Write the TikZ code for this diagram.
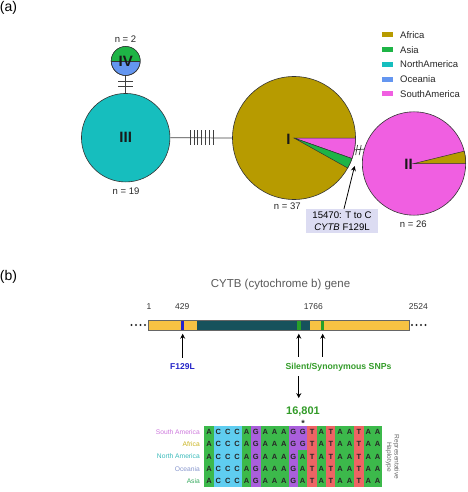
\documentclass[tikz,border=0pt]{standalone}
\usepackage{fontspec}
\setmainfont{Liberation Sans}
\usetikzlibrary{arrows.meta,calc}
\definecolor{africa}{RGB}{183,155,0}
\definecolor{asia}{RGB}{30,180,70}
\definecolor{namer}{RGB}{22,190,190}
\definecolor{oceania}{RGB}{100,150,240}
\definecolor{samer}{RGB}{240,95,225}
\definecolor{callbg}{RGB}{220,220,242}
\definecolor{genebar}{RGB}{247,194,67}
\definecolor{dkdomain}{RGB}{22,82,92}
\definecolor{mblue}{RGB}{35,35,205}
\definecolor{mgreen}{RGB}{40,160,40}
\definecolor{tgreen}{RGB}{50,155,40}
\definecolor{tblue}{RGB}{35,35,200}
\definecolor{colA}{RGB}{60,185,75}
\definecolor{colC}{RGB}{95,205,240}
\definecolor{colG}{RGB}{170,95,220}
\definecolor{colT}{RGB}{238,100,100}
\definecolor{rsam}{RGB}{205,120,220}
\definecolor{rafr}{RGB}{200,178,30}
\definecolor{rnam}{RGB}{55,185,185}
\definecolor{roce}{RGB}{135,150,205}
\definecolor{rasi}{RGB}{55,170,95}
\begin{document}
\begin{tikzpicture}[x=1pt,y=-1pt,
  lbl/.style={inner sep=0, font=\fontsize{9.5}{11}\selectfont, text=black!85},
  roman/.style={inner sep=0, font=\bfseries\fontsize{15}{15}\selectfont, text=black!90},
  hap/.style={circle, draw=black!80, line width=0.6pt, inner sep=0},
  wedge/.style={draw=black!80, line width=0.5pt},
  edge/.style={line width=0.7pt, draw=black!75},
  tickmark/.style={line width=0.7pt, draw=black!75},
  arr/.style={-{Stealth[length=5pt,width=5pt]}, line width=0.8pt, draw=black},
  num/.style={inner sep=0, font=\fontsize{8.5}{9}\selectfont, text=black!80},
  snpmark/.style={inner sep=0, minimum width=3.5pt, minimum height=10pt},
  cell/.style={inner sep=0, minimum width=9.4pt, minimum height=12.3pt, font=\bfseries\fontsize{7.5}{7.5}\selectfont, text=black!85},
  rowlbl/.style={inner sep=0, anchor=east, font=\fontsize{6.7}{7}\selectfont}
]
\useasboundingbox (0,0) rectangle (467,492);

% ---------- (a) ----------
\node[inner sep=0, font=\fontsize{14}{14}\selectfont] (laba) at (8.5,8) {(a)};

% haplotype circles
\node[hap, fill=namer, minimum size=88.5pt] (III) at (125.7,137.7) {};
\node[hap, fill=oceania, minimum size=29pt] (IV) at (125.7,61) {};
\fill[asia] (IV.center) ++(14.5,0) arc[start angle=0, end angle=-180, radius=14.5] -- cycle;
\draw[wedge] (IV.center) circle[radius=14.5];
\draw[wedge] ($(IV.center)+(-14.5,0)$) -- ($(IV.center)+(14.5,0)$);

\node[hap, fill=africa, minimum size=123pt] (I) at (294,138) {};
\filldraw[wedge, fill=samer] (I.center) -- ++(0:61.5) arc[start angle=0, end angle=19.5, radius=61.5] -- cycle;
\filldraw[wedge, fill=asia] (I.center) -- ++(19.5:61.5) arc[start angle=19.5, end angle=29.2, radius=61.5] -- cycle;

\node[hap, fill=samer, minimum size=103.4pt] (II) at (414,163.5) {};
\filldraw[wedge, fill=africa] (II.center) -- ++(-13.8:51.7) arc[start angle=-13.8, end angle=0, radius=51.7] -- cycle;

% numerals
\node[roman] (tIV) at (125.7,61) {IV};
\node[roman] (tIII) at (125.7,137.7) {III};
\node[roman] (tI) at (288.5,139) {I};
\node[roman] (tII) at (408.5,164) {II};

% n labels
\node[lbl] (n2) at (125.5,39) {n = 2};
\node[lbl] (n19) at (126,191) {n = 19};
\node[lbl] (n37) at (287.3,206.7) {n = 37};
\node[lbl] (n26) at (413.3,224) {n = 26};

% edges
\draw[edge] (IV.south) -- (III.north);
\foreach \y in {81.8,86} \draw[tickmark] (118.3,\y) -- (133.3,\y);
\draw[edge] (III.east) -- (I.west);
\foreach \i in {0,...,6} \draw[tickmark] ({190+3.9*\i},130) -- ({190+3.9*\i},145);
\draw[edge] (I.-11.25) -- (II.164.9);
\draw[tickmark] (355.6,155) -- (357.6,145);
\draw[tickmark] (359.2,155) -- (361.2,145);

% callout
\node[fill=callbg, minimum width=72pt, minimum height=24pt, inner sep=0, align=center,
      font=\fontsize{9.6}{11.7}\selectfont] (callout) at (342,221) {15470: T to C\\\textit{CYTB} F129L};
\coordinate (cyt) at (354.6,166);
\draw[arr] ([xshift=2pt]callout.north) -- (cyt);

% legend
\foreach \c/\t [count=\i] in {africa/Africa, asia/Asia, namer/NorthAmerica, oceania/Oceania, samer/SouthAmerica}{
  \fill[\c] (382,{35+14.75*(\i-1)-2.5}) rectangle ++(11,5);
  \node[lbl, anchor=west] (leg\i) at (400,{35+14.75*(\i-1)}) {\t};
}

% ---------- (b) ----------
\node[inner sep=0, font=\fontsize{14}{14}\selectfont] (labb) at (8.5,277) {(b)};
\node[inner sep=0, text=black!65, font=\fontsize{11.5}{12}\selectfont] (title) at (280.5,285) {CYTB (cytochrome b) gene};

\node[num] (p1) at (149,307) {1};
\node[num] (p429) at (182.3,307) {429};
\node[num] (p1766) at (313.3,307) {1766};
\node[num] (p2524) at (418.3,307) {2524};

\node[draw=black!60, fill=genebar, minimum width=261pt, minimum height=10pt, inner sep=0, line width=0.5pt] (bar) at (278.5,325) {};
\fill[dkdomain] (197,320) rectangle (310,330);
\node[snpmark, fill=mblue] (m1) at (182.7,325) {};
\node[snpmark, fill=mgreen] (m2) at (298.8,325) {};
\node[snpmark, fill=mgreen] (m3) at (322.7,325) {};
\draw[black!60, line width=0.5pt] (148,320) rectangle (409,330);
\foreach \x in {131.5,136,140.5,145} \fill[black!85] (\x,325) circle[radius=1.1];
\foreach \x in {412,416.5,421,425.5} \fill[black!85] (\x,325) circle[radius=1.1];

\node[inner sep=0, font=\bfseries\fontsize{8.5}{9}\selectfont, text=tblue] (f129) at (182.5,367) {F129L};
\node[inner sep=0, font=\bfseries\fontsize{8.7}{9}\selectfont, text=tgreen] (silent) at (338.5,367) {Silent/Synonymous SNPs};
\coordinate (fn) at ([yshift=6pt]f129.north);
\draw[arr] (fn -| m1) -- ([yshift=-3.5pt]m1.south);
\coordinate (sn) at ([yshift=6pt]silent.north);
\draw[arr] (sn -| m2) -- ([yshift=-3.5pt]m2.south);
\draw[arr] (sn -| m3) -- ([yshift=-3.5pt]m3.south);

\node[inner sep=0, font=\bfseries\fontsize{11}{12}\selectfont, text=tgreen] (pos) at (303,412) {16,801};
\coordinate (ss) at ([yshift=-5pt]silent.south);
\coordinate (ps) at ([yshift=9pt]pos.north);
\draw[arr] (ss -| m2) -- (ps -| m2);
\node[inner sep=0, font=\bfseries\fontsize{9}{9}\selectfont, text=black!85] (star) at (303,423.5) {*};

% alignment
\def\seqA{A,C,C,C,A,G,A,A,A,G,G,T,A,T,A,A,T,A,A}
\def\seqB{A,C,C,C,A,G,A,A,A,G,A,T,A,T,A,A,T,A,A}
\foreach \j in {0,1}{
  \foreach \l [count=\i from 0] in \seqA {
    \node[cell, fill=col\l] (c\j-\i) at ({204.3+9.37*\i+4.685},{426+12.2*\j+6.1}) {\l};
  }
}
\foreach \j in {2,3,4}{
  \foreach \l [count=\i from 0] in \seqB {
    \node[cell, fill=col\l] (c\j-\i) at ({204.3+9.37*\i+4.685},{426+12.2*\j+6.1}) {\l};
  }
}
\foreach \j/\t/\c in {0/South America/rsam, 1/Africa/rafr, 2/North America/rnam, 3/Oceania/roce, 4/Asia/rasi}{
  \node[rowlbl, text=\c] (row\j) at (200,{426+12.2*\j+6.1}) {\t};
}
\node[inner sep=0, rotate=-90, align=center, text=black!60, font=\fontsize{6.6}{7.5}\selectfont] (rep) at (392.5,457) {Representative\\Haplotype};
\end{tikzpicture}
\end{document}
